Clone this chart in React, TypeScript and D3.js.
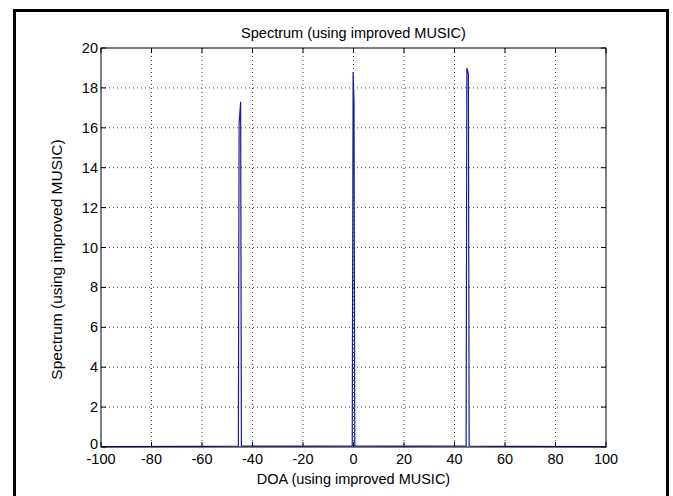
import React, { useEffect, useRef } from "react";
import * as d3 from "d3";

const doa = [-100, -60, -45.6, -45.3, -44.7, -44.4, -20, -0.5, -0.15, 0.2, 0.5, 20, 44.6, 44.9, 45.5, 45.8, 60, 100];
const spectrum = [0.02, 0.03, 0.05, 16.2, 17.3, 0.05, 0.04, 0.05, 18.8, 17.3, 0.05, 0.04, 0.05, 19.0, 18.7, 0.05, 0.03, 0.02];
const xTicks = [-100, -80, -60, -40, -20, 0, 20, 40, 60, 80, 100];
const yTicks = [0, 2, 4, 6, 8, 10, 12, 14, 16, 18, 20];

const W = 673, H = 496;
const L = 101, R = 606, T = 48, B = 447;
const FONT = "'Liberation Sans', Arial, sans-serif";
const FS = 14.5;

export default function App() {
  const ref = useRef<SVGSVGElement>(null);
  useEffect(() => {
    const svg = d3.select(ref.current);
    svg.selectAll("*").remove();
    const x = d3.scaleLinear().domain([-100, 100]).range([L, R]);
    const y = d3.scaleLinear().domain([0, 20]).range([B, T]);

    svg.append("rect").attr("x", 0).attr("y", 0).attr("width", W).attr("height", H).attr("fill", "#fff");
    svg.append("rect").attr("x", 14.5).attr("y", 10.5).attr("width", 653).attr("height", 500)
      .attr("fill", "none").attr("stroke", "#000").attr("stroke-width", 3);

    const g = svg.append("g");
    xTicks.slice(1, -1).forEach(t => {
      g.append("line").attr("x1", x(t)).attr("x2", x(t)).attr("y1", T).attr("y2", B)
        .attr("stroke", "#444").attr("stroke-width", 1).attr("stroke-dasharray", "1,3");
    });
    yTicks.slice(1, -1).forEach(t => {
      g.append("line").attr("x1", L).attr("x2", R).attr("y1", y(t)).attr("y2", y(t))
        .attr("stroke", "#444").attr("stroke-width", 1).attr("stroke-dasharray", "1,3");
    });
    xTicks.forEach(t => {
      g.append("line").attr("x1", x(t)).attr("x2", x(t)).attr("y1", B).attr("y2", B - 5).attr("stroke", "#000");
      g.append("line").attr("x1", x(t)).attr("x2", x(t)).attr("y1", T).attr("y2", T + 5).attr("stroke", "#000");
      g.append("text").attr("x", x(t)).attr("y", B + 17).attr("text-anchor", "middle")
        .attr("font-family", FONT).attr("font-size", FS).attr("fill", "#000").text(String(t));
    });
    yTicks.forEach(t => {
      g.append("line").attr("x1", L).attr("x2", L + 5).attr("y1", y(t)).attr("y2", y(t)).attr("stroke", "#000");
      g.append("line").attr("x1", R).attr("x2", R - 5).attr("y1", y(t)).attr("y2", y(t)).attr("stroke", "#000");
      g.append("text").attr("x", L - 3).attr("y", y(t) + (t === 0 ? 2 : 5)).attr("text-anchor", "end")
        .attr("font-family", FONT).attr("font-size", FS).attr("fill", "#000").text(String(t));
    });
    const line = d3.line<number>().x((_, i) => x(doa[i])).y(d => y(d));
    g.append("path").attr("d", line(spectrum) as string).attr("fill", "none")
      .attr("stroke", "#1a1aa0").attr("stroke-width", 1.2);
    g.append("rect").attr("x", L).attr("y", T).attr("width", R - L).attr("height", B - T)
      .attr("fill", "none").attr("stroke", "#000").attr("stroke-width", 1);

    svg.append("text").attr("x", (L + R) / 2).attr("y", 38).attr("text-anchor", "middle")
      .attr("font-family", FONT).attr("font-size", FS).attr("fill", "#000").text("Spectrum (using improved MUSIC)");
    svg.append("text").attr("x", (L + R) / 2).attr("y", 484).attr("text-anchor", "middle")
      .attr("font-family", FONT).attr("font-size", FS).attr("fill", "#000").text("DOA (using improved MUSIC)");
    svg.append("text").attr("transform", `translate(62,${(T + B) / 2 + 12}) rotate(-90)`).attr("text-anchor", "middle")
      .attr("font-family", FONT).attr("font-size", 15.5).attr("fill", "#000").text("Spectrum (using improved MUSIC)");
  }, []);
  return <svg ref={ref} width={W} height={H} style={{ position: "absolute", left: 0, top: 0 }} />;
}
